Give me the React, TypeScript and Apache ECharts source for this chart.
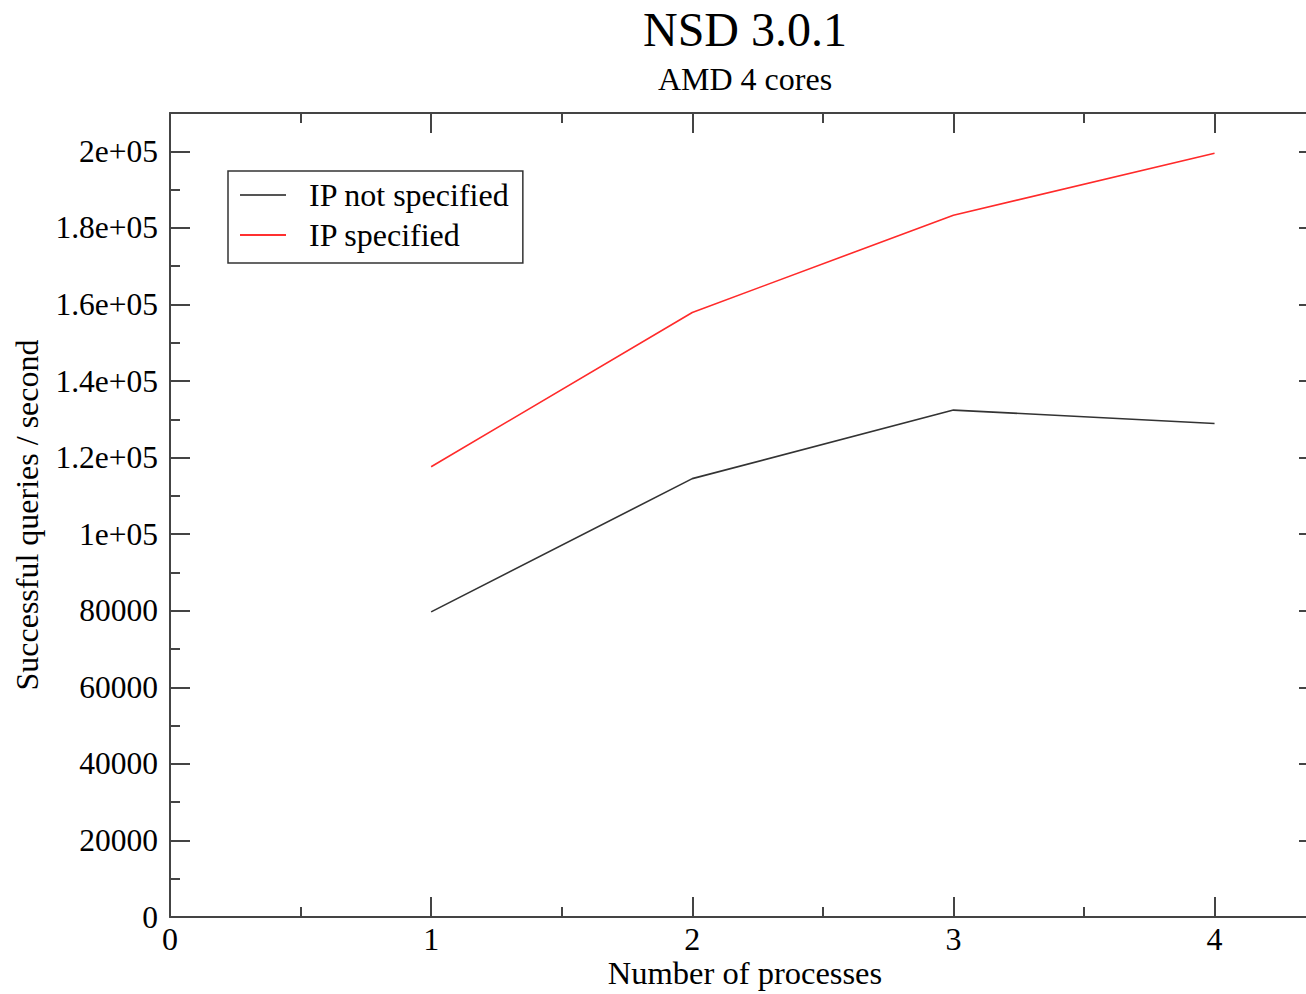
import React, { useEffect, useRef } from "react";
import * as echarts from "echarts";

const processes = [1, 2, 3, 4];
const ipNotSpecified = [79700, 114500, 132400, 128900];
const ipSpecified = [117600, 157900, 183300, 199500];
const seriesNames = ["IP not specified", "IP specified"];
const titleText = "NSD 3.0.1";
const subtitleText = "AMD 4 cores";
const xName = "Number of processes";
const yName = "Successful queries / second";

const FONT = "'Liberation Serif', 'Times New Roman', serif";
const FRAME = "#444";

function yLabel(v: number): string {
  if (v > 200000) return "";
  if (v === 0) return "0";
  if (v >= 100000) return parseFloat((v / 1e5).toFixed(2)) + "e+05";
  return String(Math.round(v));
}
function xLabel(v: number): string {
  return Number.isInteger(v) ? String(v) : "";
}

export default function App() {
  const ref = useRef<HTMLDivElement>(null);
  useEffect(() => {
    if (!ref.current) return;
    const chart = echarts.init(ref.current, null, { renderer: "svg" });
    const XMAX = 4.4;
    const YMAX = 210000;
    const tickStyle = { color: FRAME, width: 2 };
    const mkX = (pos: "bottom" | "top", major: boolean, labels: boolean) => ({
      type: "value",
      position: pos,
      min: 0,
      max: XMAX,
      interval: major ? 1 : 0.5,
      axisLine: { show: major, onZero: false, lineStyle: { color: FRAME, width: 2 } },
      axisTick: { show: true, inside: true, length: major ? 20 : 10, lineStyle: tickStyle },
      axisLabel: {
        show: labels,
        formatter: xLabel,
        fontSize: 32,
        fontFamily: FONT,
        color: "#000",
        margin: 6,
        showMaxLabel: false,
      },
      splitLine: { show: false },
    });
    const mkY = (pos: "left" | "right", major: boolean, labels: boolean) => ({
      type: "value",
      position: pos,
      min: 0,
      max: YMAX,
      interval: major ? 20000 : 10000,
      axisLine: { show: major, onZero: false, lineStyle: { color: FRAME, width: 2 } },
      axisTick: { show: true, inside: true, length: major ? 20 : 10, lineStyle: tickStyle },
      axisLabel: {
        show: labels,
        formatter: yLabel,
        fontSize: 31.5,
        fontFamily: FONT,
        color: "#000",
        margin: 12,
      },
      splitLine: { show: false },
    });
    chart.setOption({
      animation: false,
      backgroundColor: "#fff",
      grid: { left: 170, top: 113, right: 1, bottom: 77, containLabel: false },
      xAxis: [mkX("bottom", true, true), mkX("bottom", false, false), mkX("top", true, false), mkX("top", false, false)],
      yAxis: [mkY("left", true, true), mkY("left", false, false), mkY("right", true, false), mkY("right", false, false)],
      legend: {
        orient: "vertical",
        left: 228,
        top: 171,
        padding: [8, 13, 12, 12],
        itemWidth: 46,
        itemHeight: 14,
        itemGap: 8,
        borderColor: "#333",
        borderWidth: 1.5,
        backgroundColor: "#fff",
        icon: "path://M0,6L46,6L46,8L0,8Z",
        textStyle: { fontSize: 32, fontFamily: FONT, color: "#000", lineHeight: 32, padding: [0, 0, 0, 18] },
        data: seriesNames,
      },
      series: [
        {
          name: seriesNames[0],
          type: "line",
          symbol: "none",
          xAxisIndex: 0,
          yAxisIndex: 0,
          data: processes.map((x, i) => [x, ipNotSpecified[i]]),
          lineStyle: { color: "#333", width: 1.6 },
          itemStyle: { color: "#555" },
        },
        {
          name: seriesNames[1],
          type: "line",
          symbol: "none",
          xAxisIndex: 0,
          yAxisIndex: 0,
          data: processes.map((x, i) => [x, ipSpecified[i]]),
          lineStyle: { color: "#ff2a2a", width: 1.6 },
          itemStyle: { color: "#ff3030" },
        },
      ],
      graphic: [
        {
          type: "text",
          x: 745,
          y: 29,
          style: { text: titleText, font: `48px ${FONT}`, fill: "#000", textAlign: "center", textVerticalAlign: "middle" },
        },
        {
          type: "text",
          x: 745,
          y: 79,
          style: { text: subtitleText, font: `32px ${FONT}`, fill: "#000", textAlign: "center", textVerticalAlign: "middle" },
        },
        {
          type: "text",
          x: 745,
          y: 973,
          style: { text: xName, font: `32.5px ${FONT}`, fill: "#000", textAlign: "center", textVerticalAlign: "middle" },
        },
        {
          type: "text",
          x: 27,
          y: 515,
          rotation: Math.PI / 2,
          style: { text: yName, font: `32px ${FONT}`, fill: "#000", textAlign: "center", textVerticalAlign: "middle" },
        },
      ],
    });
    return () => chart.dispose();
  }, []);
  return (
    <div style={{ position: "absolute", left: 0, top: 0, width: 1306, height: 994, overflow: "hidden" }}>
      <div ref={ref} style={{ width: 1320, height: 994 }} />
    </div>
  );
}
